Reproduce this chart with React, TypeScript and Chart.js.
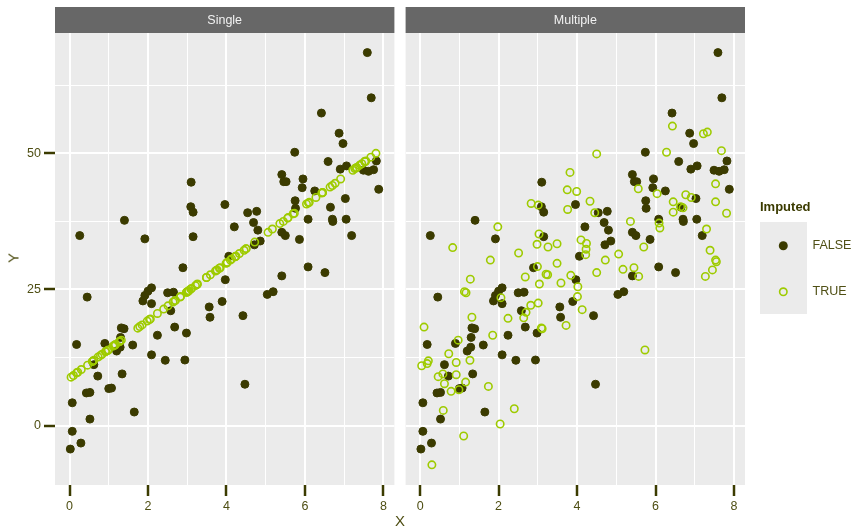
import React, { useEffect, useRef } from "react";
import { Chart, registerables } from "chart.js";

Chart.register(...registerables);

// ---------- data ----------
const obsX = [0.02, 0.07, 0.29, 0.07, 0.52, 0.43, 0.52, 0.18, 0.45, 0.62, 0.72, 0.9, 1.0, 1.07, 1.2, 1.29, 1.3, 1.32, 1.39, 1.34, 1.61, 1.65, 1.87, 1.92, 2.0, 2.09, 2.09, 2.24, 2.09, 2.44, 2.5, 2.65, 2.58, 2.68, 2.89, 2.98, 2.94, 3.56, 3.58, 3.89, 3.97, 4.06, 4.42, 4.47, 5.04, 5.19, 5.41, 6.08, 6.51, 0.26, 1.4, 1.92, 3.1, 3.09, 3.15, 3.15, 3.96, 4.2, 4.54, 4.77, 4.69, 4.8, 4.86, 4.71, 5.41, 5.46, 5.52, 5.74, 5.95, 5.93, 5.75, 5.76, 5.41, 5.5, 5.86, 6.08, 6.25, 6.42, 6.59, 6.65, 6.7, 6.71, 6.87, 6.97, 6.9, 7.06, 7.03, 7.05, 7.19, 7.59, 7.69, 7.49, 7.62, 7.75, 7.82, 7.88];
const obsY = [-4.3, -1.05, -3.2, 4.2, 1.2, 6.0, 6.1, 14.9, 23.6, 11.2, 9.1, 15.1, 6.8, 6.9, 13.7, 14.4, 16.2, 17.95, 17.8, 9.5, 14.8, 2.5, 22.9, 23.9, 24.7, 25.3, 22.4, 16.6, 13.0, 12.0, 24.4, 24.5, 21.1, 18.1, 29.0, 17.0, 12.05, 21.8, 19.9, 22.8, 26.8, 31.1, 20.2, 7.6, 24.1, 24.6, 27.5, 29.15, 28.1, 34.9, 37.7, 34.3, 44.7, 40.2, 39.2, 34.7, 40.6, 36.5, 39.1, 39.35, 37.3, 35.9, 33.9, 33.2, 46.1, 44.8, 44.8, 50.2, 45.3, 43.7, 41.3, 39.9, 35.5, 34.9, 34.2, 37.9, 43.1, 57.4, 48.5, 40.1, 37.9, 37.5, 53.7, 51.8, 47.1, 47.7, 41.7, 37.9, 34.9, 68.5, 60.2, 46.9, 46.7, 47.0, 48.6, 43.4];

const impX = [0.04, 0.1, 0.18, 0.21, 0.3, 0.46, 0.58, 0.59, 0.62, 0.73, 0.79, 0.83, 0.92, 0.92, 0.97, 0.99, 1.11, 1.13, 1.16, 1.17, 1.27, 1.28, 1.32, 1.74, 1.79, 1.85, 1.98, 2.04, 2.06, 2.24, 2.4, 2.51, 2.64, 2.68, 2.7, 2.82, 2.83, 2.98, 2.99, 3.01, 3.01, 3.03, 3.04, 3.09, 3.11, 3.21, 3.25, 3.26, 3.49, 3.49, 3.59, 3.72, 3.75, 3.76, 3.82, 3.84, 3.99, 4.01, 4.02, 4.1, 4.13, 4.22, 4.23, 4.24, 4.33, 4.45, 4.5, 4.5, 4.72, 5.06, 5.17, 5.36, 5.45, 5.56, 5.57, 5.7, 5.73, 6.04, 6.09, 6.11, 6.28, 6.43, 6.45, 6.45, 6.64, 6.7, 6.77, 6.91, 7.22, 7.27, 7.3, 7.32, 7.39, 7.45, 7.53, 7.53, 7.53, 7.55, 7.68, 7.81];
const impSingleY = [8.9, 9.2, 9.7, 9.8, 10.3, 11.1, 11.8, 11.8, 12.0, 12.6, 12.9, 13.1, 13.6, 13.6, 13.8, 13.9, 14.6, 14.7, 14.8, 14.9, 15.4, 15.5, 15.7, 17.9, 18.2, 18.5, 19.2, 19.5, 19.6, 20.6, 21.4, 22.0, 22.7, 22.9, 23.0, 23.6, 23.7, 24.5, 24.5, 24.6, 24.6, 24.7, 24.8, 25.1, 25.2, 25.7, 25.9, 26.0, 27.2, 27.2, 27.7, 28.4, 28.5, 28.6, 28.9, 29.0, 29.8, 29.9, 30.0, 30.4, 30.6, 31.0, 31.1, 31.1, 31.6, 32.2, 32.5, 32.5, 33.7, 35.5, 36.1, 37.1, 37.5, 38.1, 38.2, 38.9, 39.0, 40.7, 40.9, 41.0, 41.9, 42.7, 42.8, 42.8, 43.8, 44.1, 44.5, 45.3, 46.9, 47.2, 47.3, 47.4, 47.8, 48.1, 48.5, 48.5, 48.5, 48.6, 49.3, 50.0];
const impMultipleY = [11.0, 18.1, 11.4, 11.9, -7.2, 9.0, 9.5, 2.8, 7.7, 13.2, 6.3, 32.7, 11.6, 9.35, 15.7, 6.6, -1.9, 24.6, 8.0, 24.4, 12.0, 26.9, 19.9, 7.2, 30.4, 16.6, 36.5, 0.3, 23.5, 19.7, 3.1, 31.7, 19.8, 27.3, 20.8, 22.1, 40.8, 33.3, 29.2, 22.5, 40.5, 35.2, 26.0, 17.95, 17.8, 27.8, 27.7, 32.8, 33.4, 29.8, 26.2, 18.4, 43.3, 39.7, 46.5, 27.6, 43.0, 23.7, 25.5, 34.1, 21.3, 31.4, 32.4, 33.45, 41.2, 39.1, 49.9, 28.1, 30.4, 31.5, 28.7, 37.5, 29.0, 43.5, 27.4, 32.8, 13.9, 42.6, 37.2, 36.3, 50.2, 55.0, 41.1, 39.2, 40.2, 40.0, 42.4, 41.9, 53.6, 27.4, 36.1, 53.9, 32.2, 28.6, 44.4, 41.1, 30.4, 30.1, 50.5, 39.0];

const panelTitles = ["Single", "Multiple"];
const legendTitle = "Imputed";
const legendLabels = ["FALSE", "TRUE"];
const xTitle = "X";
const yTitle = "Y";
const xTicks = [0, 1, 2, 3, 4, 5, 6, 7, 8];
const xMajor = [0, 2, 4, 6, 8];
const yTicks = [0, 12.5, 25, 37.5, 50, 62.5];
const yMajor = [0, 25, 50];
const xRange = [-0.37, 8.28];
const yRange = [-10.9, 72.1];

// ---------- style ----------
const DARK = "#3b3b00";
const GREEN = "#9ecb00";
const TEXT = "#4f4f14";
const FONT = "'Liberation Sans', Arial, Helvetica, sans-serif";
const PANEL_BG = "#ebebeb";
const STRIP_BG = "#676767";

const toPoints = (xs: number[], ys: number[]) => xs.map((x, i) => ({ x, y: ys[i] }));

function makeChart(canvas: HTMLCanvasElement, title: string, impY: number[], showY: boolean, withLegend: boolean) {
  const panelPlugin = {
    id: "panelDeco",
    beforeDraw(chart: any) {
      const { ctx, chartArea: a } = chart;
      ctx.save();
      ctx.fillStyle = PANEL_BG;
      ctx.fillRect(a.left, a.top, a.right - a.left, a.bottom - a.top);
      ctx.fillStyle = STRIP_BG;
      ctx.fillRect(a.left, 7, a.right - a.left, 26);
      ctx.fillStyle = "#f2f2f2";
      ctx.font = `12.5px ${FONT}`;
      ctx.textAlign = "center";
      ctx.textBaseline = "middle";
      ctx.fillText(title, (a.left + a.right) / 2, 20.5);
      ctx.restore();
    },
    afterDraw(chart: any) {
      if (!withLegend) return;
      const { ctx } = chart;
      const lx = 360;
      ctx.save();
      ctx.fillStyle = DARK;
      ctx.font = `bold 13px ${FONT}`;
      ctx.textAlign = "left";
      ctx.textBaseline = "middle";
      ctx.fillText(legendTitle, lx, 207);
      ctx.fillStyle = PANEL_BG;
      ctx.fillRect(lx, 222, 47, 92);
      const cx = lx + 23.3;
      ctx.beginPath();
      ctx.arc(cx, 245.8, 4.5, 0, Math.PI * 2);
      ctx.fillStyle = DARK;
      ctx.fill();
      ctx.beginPath();
      ctx.arc(cx, 291.8, 3.7, 0, Math.PI * 2);
      ctx.strokeStyle = GREEN;
      ctx.lineWidth = 1.6;
      ctx.stroke();
      ctx.fillStyle = TEXT;
      ctx.font = `12.5px ${FONT}`;
      ctx.fillText(legendLabels[0], lx + 52.5, 246);
      ctx.fillText(legendLabels[1], lx + 52.5, 292);
      ctx.restore();
    },
  };

  const isMajorX = (v: number) => xMajor.includes(v);
  const isMajorY = (v: number) => yMajor.includes(v);

  return new Chart(canvas, {
    type: "scatter",
    data: {
      datasets: [
        {
          label: legendLabels[1],
          data: toPoints(impX, impY),
          pointRadius: 3.7,
          pointBorderWidth: 1.6,
          pointBackgroundColor: "rgba(0,0,0,0)",
          pointBorderColor: GREEN,
        },
        {
          label: legendLabels[0],
          data: toPoints(obsX, obsY),
          pointRadius: 4,
          pointBorderWidth: 1,
          pointBackgroundColor: DARK,
          pointBorderColor: DARK,
        },
      ],
    },
    options: {
      animation: false,
      responsive: false,
      events: [],
      layout: {
        padding: showY
          ? { top: 33, left: 0, right: 4, bottom: 0 }
          : { top: 33, left: 4, right: withLegend ? 110 : 5, bottom: 0 },
      },
      plugins: {
        legend: { display: false },
        tooltip: { enabled: false },
      },
      scales: {
        x: {
          type: "linear",
          min: xRange[0],
          max: xRange[1],
          afterBuildTicks: (s: any) => {
            s.ticks = xTicks.map((v) => ({ value: v }));
          },
          afterFit: (s: any) => {
            s.height = 42;
            s.paddingLeft = 0;
            s.paddingRight = 0;
          },
          border: { display: false },
          grid: {
            color: "#ffffff",
            lineWidth: (c: any) => (c.tick && isMajorX(c.tick.value) ? 2 : 1),
            tickColor: (c: any) => (c.tick && isMajorX(c.tick.value) ? DARK : "rgba(0,0,0,0)"),
            tickLength: 11,
            tickWidth: 2.5,
          },
          ticks: {
            autoSkip: false,
            maxRotation: 0,
            padding: 3,
            color: TEXT,
            font: { family: FONT, size: 12.5 },
            callback: (v: any) => (isMajorX(v) ? String(v) : ""),
          },
        },
        y: {
          type: "linear",
          min: yRange[0],
          max: yRange[1],
          afterBuildTicks: (s: any) => {
            s.ticks = yTicks.map((v) => ({ value: v }));
          },
          afterFit: (s: any) => {
            s.width = showY ? 55 : 0;
            s.paddingTop = 0;
            s.paddingBottom = 0;
          },
          border: { display: false },
          grid: {
            color: "#ffffff",
            lineWidth: (c: any) => (c.tick && isMajorY(c.tick.value) ? 2 : 1),
            tickColor: (c: any) => (showY && c.tick && isMajorY(c.tick.value) ? DARK : "rgba(0,0,0,0)"),
            tickLength: showY ? 11 : 0,
            tickWidth: 2.5,
            drawTicks: showY,
          },
          ticks: {
            display: showY,
            autoSkip: false,
            padding: 3,
            color: TEXT,
            font: { family: FONT, size: 12.5 },
            callback: (v: any) => (isMajorY(v) ? String(v) : ""),
          },
        },
      },
    },
    plugins: [panelPlugin],
  } as any);
}

export default function App() {
  const leftRef = useRef<HTMLCanvasElement>(null);
  const rightRef = useRef<HTMLCanvasElement>(null);

  useEffect(() => {
    const c1 = makeChart(leftRef.current!, panelTitles[0], impSingleY, true, false);
    const c2 = makeChart(rightRef.current!, panelTitles[1], impMultipleY, false, true);
    return () => {
      c1.destroy();
      c2.destroy();
    };
  }, []);

  return (
    <div style={{ position: "absolute", left: 0, top: 0, width: 855, height: 527, background: "#ffffff", overflow: "hidden", fontFamily: FONT }}>
      <canvas ref={leftRef} width={400} height={527} style={{ position: "absolute", left: 0, top: 0, width: 400, height: 527 }} />
      <canvas ref={rightRef} width={455} height={527} style={{ position: "absolute", left: 400, top: 0, width: 455, height: 527 }} />
      <div style={{ position: "absolute", left: 13, top: 258, transform: "translate(-50%, -50%) rotate(-90deg)", fontSize: 15, color: TEXT, lineHeight: "15px" }}>{yTitle}</div>
      <div style={{ position: "absolute", left: 400, top: 520, transform: "translate(-50%, -50%)", fontSize: 15, color: TEXT, lineHeight: "15px" }}>{xTitle}</div>
    </div>
  );
}
